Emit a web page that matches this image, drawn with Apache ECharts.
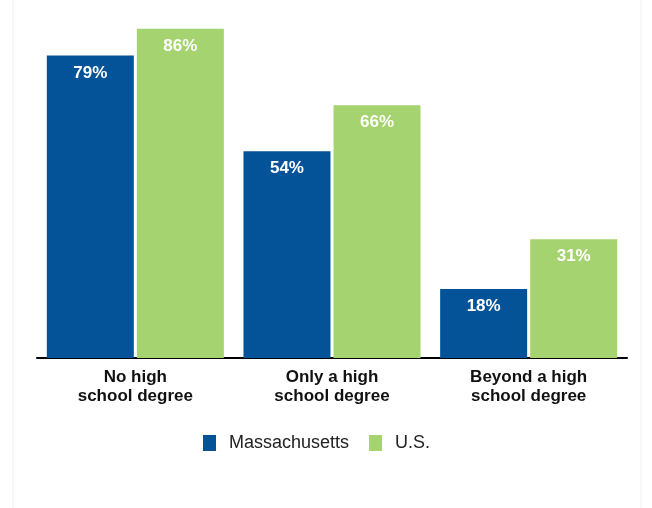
<!DOCTYPE html>
<html>
<head>
<meta charset="UTF-8">
<title></title>
<script type="text/javascript" src="https://cdn.jsdelivr.net/npm/echarts@6/dist/echarts.min.js"></script>
<style type="text/css">
body { margin: 0; background: #fff; }
#chart { width: 652px; height: 508px; }
</style>
</head>
<body>
<div id="chart"></div>
<script>
var categories = ['No high\nschool degree', 'Only a high\nschool degree', 'Beyond a high\nschool degree'];
var seriesNames = ['Massachusetts', 'U.S.'];
var massValues = [79, 54, 18];
var usValues = [86, 66, 31];

var FONT = '"Liberation Sans", Arial, sans-serif';

var chart = echarts.init(document.getElementById('chart'));

var labelStyle = {
    show: true,
    position: 'insideTop',
    distance: 9,
    color: '#fff',
    fontFamily: FONT,
    fontWeight: 'bold',
    fontSize: 17,
    formatter: '{c}%'
};

var option = {
    animation: false,
    textStyle: { fontFamily: FONT },
    graphic: [{
        type: 'rect',
        shape: { x: 13, y: -2, width: 628, height: 512 },
        style: { fill: 'none', stroke: '#f1f1f1', lineWidth: 1 },
        silent: true,
        z: -10
    }],
    legend: {
        data: seriesNames,
        bottom: 51,
        left: 198,
        itemWidth: 13,
        itemHeight: 16,
        itemGap: 20,
        icon: 'rect',
        textStyle: { fontFamily: FONT, fontSize: 18, color: '#222', padding: [0, 0, 0, 8] }
    },
    grid: {
        left: 37,
        right: 25,
        top: 0,
        bottom: 150,
        containLabel: false
    },
    xAxis: {
        type: 'category',
        data: categories,
        axisTick: { show: false },
        axisLine: { lineStyle: { color: '#000', width: 2 } },
        axisLabel: {
            color: '#111',
            fontFamily: FONT,
            fontWeight: 'bold',
            fontSize: 17,
            lineHeight: 19,
            margin: 10,
            interval: 0
        }
    },
    yAxis: {
        type: 'value',
        min: 0,
        max: 93.5,
        show: false,
        splitLine: { show: false }
    },
    series: [
        {
            name: seriesNames[0],
            type: 'bar',
            data: massValues,
            barWidth: 87,
            barGap: '3.5%',
            itemStyle: { color: '#045298' },
            label: labelStyle
        },
        {
            name: seriesNames[1],
            type: 'bar',
            data: usValues,
            barWidth: 87,
            itemStyle: { color: '#a5d36f' },
            label: labelStyle
        }
    ]
};
chart.setOption(option);
</script>
</body>
</html>
